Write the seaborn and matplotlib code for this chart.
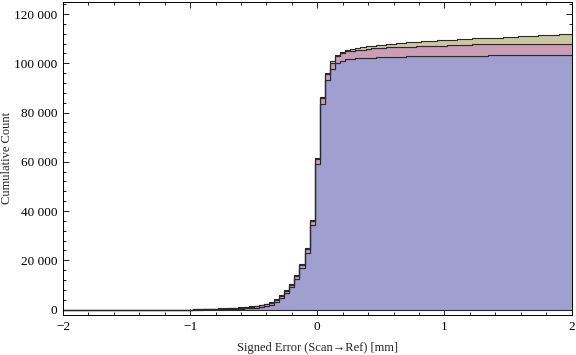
import numpy as np
import pandas as pd
import seaborn as sns
import matplotlib
matplotlib.use("Agg")
import matplotlib.pyplot as plt
import matplotlib.ticker as ticker
from matplotlib.ticker import FuncFormatter

# bins are 0.04 wide, edges on odd multiples of 0.02; one value per bin from -0.96 on
bin_centers = np.round(-0.96 + 0.04 * np.arange(75), 2)

# cumulative counts per data set
blue_cum = [0, 0, 5, 15, 30, 50, 80, 130, 200, 300,
            430, 600, 800, 1100, 1500, 2030, 3170, 4550, 6580, 9020,
            12510, 16730, 22820, 34190, 59090, 83330, 93200, 97550, 99980, 101040,
            101730, 101850, 102000, 102100, 102200, 102250, 102400, 102450, 102550, 102600,
            102650, 102700, 102750, 102800, 102850, 102900, 102920, 102950, 102980, 103000,
            103020, 103040, 103060, 103080, 103100, 103120, 103140, 103150, 103160, 103170,
            103180, 103190, 103200, 103210, 103220, 103230, 103240, 103250, 103260, 103270,
            103280, 103290, 103300, 103310, 103320]
pink_cum = [40, 80, 120, 150, 180, 220, 250, 290, 320, 360,
            390, 430, 470, 530, 600, 700, 800, 900, 1000, 1100,
            1250, 1450, 1700, 1950, 2150, 2400, 2550, 2700, 2850, 2950,
            3050, 3130, 3200, 3450, 3700, 3750, 3850, 3900, 3920, 3940,
            3950, 3960, 3970, 3980, 3990, 4150, 4160, 4170, 4180, 4190,
            4200, 4210, 4450, 4460, 4470, 4600, 4605, 4610, 4615, 4620,
            4625, 4630, 4635, 4640, 4645, 4650, 4655, 4660, 4665, 4670,
            4675, 4680, 4685, 4690, 4695]
olive_cum = [40, 70, 90, 110, 120, 140, 160, 170, 180, 190,
             200, 210, 220, 230, 240, 250, 260, 270, 280, 290,
             300, 310, 320, 340, 360, 400, 440, 480, 540, 620,
             700, 820, 1100, 1100, 1120, 1130, 1200, 1210, 1330, 1340,
             1600, 1610, 1880, 1890, 1900, 1960, 1970, 1980, 2240, 2260,
             2280, 2300, 2340, 2360, 2380, 2400, 2600, 2610, 2620, 2630,
             2640, 2830, 2840, 2850, 3150, 3160, 3170, 3180, 3500, 3510,
             3520, 3530, 3780, 3790, 3800]

frames = []
for name, cum in [("A", blue_cum), ("B", pink_cum), ("C", olive_cum)]:
    counts = np.diff(np.asarray(cum), prepend=0)
    frames.append(pd.DataFrame({"error": bin_centers, "count": counts, "set": name}))
df = pd.concat(frames, ignore_index=True)

sns.set_theme(style="ticks")
plt.rcParams["font.family"] = ["Liberation Serif", "DejaVu Serif"]

fig, ax = plt.subplots(figsize=(5.76, 3.55), dpi=100)
ax.set_position([63 / 576, 1 - 315 / 355, 508.5 / 576, 313.5 / 355])

sns.histplot(data=df, x="error", weights="count", hue="set", hue_order=["C", "B", "A"],
             palette={"A": "#a09fcf", "B": "#cc9db7", "C": "#cbc7a1"},
             binwidth=0.04, binrange=(-2.02, 2.02), cumulative=True,
             multiple="stack", element="step",
             alpha=1, edgecolor="#2a2a2a", linewidth=0.8, legend=False, ax=ax)

ax.set_xlim(-2, 2)
ax.set_ylim(-2230, 125080)
ax.xaxis.set_major_locator(ticker.MultipleLocator(1))
ax.xaxis.set_minor_locator(ticker.MultipleLocator(0.2))
ax.yaxis.set_major_locator(ticker.MultipleLocator(20000))
ax.yaxis.set_minor_locator(ticker.MultipleLocator(4000))
ax.yaxis.set_major_formatter(FuncFormatter(lambda v, p: f"{int(round(v)):,}".replace(",", " ")))

ax.tick_params(which="both", direction="in", top=True, right=True, labelsize=9.5,
               pad=4, color="black", labelcolor="black")
ax.tick_params(which="major", length=4.3, width=0.6)
ax.tick_params(which="minor", length=2.2, width=0.6)
for s in ax.spines.values():
    s.set_linewidth(0.7)
    s.set_color("black")

ax.set_xlabel("Signed Error (Scan\u2192Ref) [mm]", fontsize=9, va="center")
ax.set_ylabel("Cumulative Count", fontsize=9, va="center")
ax.xaxis.set_label_coords(0.5, -0.104)
ax.yaxis.set_label_coords(-0.1095, 0.5)

fig.savefig("out.png", dpi=100)
